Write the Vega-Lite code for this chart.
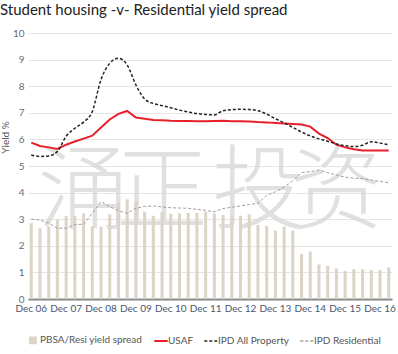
{
  "$schema": "https://vega.github.io/schema/vega-lite/v6.json",
  "width": 364,
  "height": 266,
  "padding": {"left": 0, "top": 3, "right": 5, "bottom": 0},
  "background": "white",
  "title": {"text": "Student housing -v- Residential yield spread", "anchor": "start", "frame": "bounds", "font": "Lato", "fontSize": 15, "fontWeight": "normal", "color": "#222222", "offset": 10},
  "config": {"view": {"stroke": null}, "font": "Lato"},
  "datasets": {
    "main": [
      {"q": "Dec 06", "spread": 2.85, "usaf": 5.88, "all": 5.41, "res": 3.00},
      {"q": "Mar 07", "spread": 2.66, "usaf": 5.75, "all": 5.36, "res": 2.97},
      {"q": "Jun 07", "spread": 2.72, "usaf": 5.70, "all": 5.38, "res": 2.85},
      {"q": "Sep 07", "spread": 2.97, "usaf": 5.64, "all": 5.55, "res": 2.66},
      {"q": "Dec 07", "spread": 3.12, "usaf": 5.80, "all": 6.12, "res": 2.66},
      {"q": "Mar 08", "spread": 3.12, "usaf": 5.92, "all": 6.42, "res": 2.80},
      {"q": "Jun 08", "spread": 3.22, "usaf": 6.03, "all": 6.65, "res": 2.81},
      {"q": "Sep 08", "spread": 2.74, "usaf": 6.14, "all": 7.05, "res": 3.22},
      {"q": "Dec 08", "spread": 2.72, "usaf": 6.45, "all": 8.25, "res": 3.66},
      {"q": "Mar 09", "spread": 3.18, "usaf": 6.75, "all": 8.86, "res": 3.47},
      {"q": "Jun 09", "spread": 3.62, "usaf": 6.96, "all": 9.05, "res": 3.32},
      {"q": "Sep 09", "spread": 3.75, "usaf": 7.07, "all": 8.80, "res": 3.22},
      {"q": "Dec 09", "spread": 3.67, "usaf": 6.82, "all": 8.05, "res": 3.41},
      {"q": "Mar 10", "spread": 3.28, "usaf": 6.78, "all": 7.52, "res": 3.48},
      {"q": "Jun 10", "spread": 3.13, "usaf": 6.73, "all": 7.35, "res": 3.50},
      {"q": "Sep 10", "spread": 3.28, "usaf": 6.72, "all": 7.27, "res": 3.46},
      {"q": "Dec 10", "spread": 3.20, "usaf": 6.70, "all": 7.19, "res": 3.43},
      {"q": "Mar 11", "spread": 3.22, "usaf": 6.69, "all": 7.10, "res": 3.42},
      {"q": "Jun 11", "spread": 3.24, "usaf": 6.69, "all": 7.03, "res": 3.41},
      {"q": "Sep 11", "spread": 3.24, "usaf": 6.68, "all": 6.97, "res": 3.37},
      {"q": "Dec 11", "spread": 3.28, "usaf": 6.68, "all": 6.94, "res": 3.33},
      {"q": "Mar 12", "spread": 3.22, "usaf": 6.69, "all": 6.92, "res": 3.28},
      {"q": "Jun 12", "spread": 3.16, "usaf": 6.70, "all": 7.08, "res": 3.40},
      {"q": "Sep 12", "spread": 3.10, "usaf": 6.68, "all": 7.12, "res": 3.45},
      {"q": "Dec 12", "spread": 3.13, "usaf": 6.68, "all": 7.13, "res": 3.50},
      {"q": "Mar 13", "spread": 3.18, "usaf": 6.67, "all": 7.12, "res": 3.55},
      {"q": "Jun 13", "spread": 2.78, "usaf": 6.65, "all": 7.08, "res": 3.60},
      {"q": "Sep 13", "spread": 2.75, "usaf": 6.64, "all": 6.95, "res": 3.90},
      {"q": "Dec 13", "spread": 2.57, "usaf": 6.62, "all": 6.78, "res": 4.03},
      {"q": "Mar 14", "spread": 2.72, "usaf": 6.60, "all": 6.62, "res": 4.20},
      {"q": "Jun 14", "spread": 2.57, "usaf": 6.58, "all": 6.45, "res": 4.45},
      {"q": "Sep 14", "spread": 1.69, "usaf": 6.56, "all": 6.28, "res": 4.75},
      {"q": "Dec 14", "spread": 1.78, "usaf": 6.48, "all": 6.13, "res": 4.79},
      {"q": "Mar 15", "spread": 1.30, "usaf": 6.22, "all": 6.02, "res": 4.85},
      {"q": "Jun 15", "spread": 1.24, "usaf": 6.05, "all": 5.93, "res": 4.75},
      {"q": "Sep 15", "spread": 1.15, "usaf": 5.80, "all": 5.83, "res": 4.66},
      {"q": "Dec 15", "spread": 1.05, "usaf": 5.70, "all": 5.76, "res": 4.58},
      {"q": "Mar 16", "spread": 1.12, "usaf": 5.63, "all": 5.73, "res": 4.54},
      {"q": "Jun 16", "spread": 1.12, "usaf": 5.58, "all": 5.78, "res": 4.53},
      {"q": "Sep 16", "spread": 1.09, "usaf": 5.58, "all": 5.91, "res": 4.47},
      {"q": "Dec 16", "spread": 1.09, "usaf": 5.58, "all": 5.86, "res": 4.42},
      {"q": "Mar 17", "spread": 1.19, "usaf": 5.58, "all": 5.80, "res": 4.37}
    ],
    "wm": [
      {"q": "Jun 08", "ch": "涌", "value": 3.95},
      {"q": "Sep 10", "ch": "正", "value": 3.95},
      {"q": "Jun 13", "ch": "投", "value": 3.95},
      {"q": "Sep 15", "ch": "资", "value": 3.95}
    ]
  },
  "encoding": {
    "x": {
      "field": "q", "type": "ordinal",
      "scale": {
        "domain": ["Dec 06","Mar 07","Jun 07","Sep 07","Dec 07","Mar 08","Jun 08","Sep 08","Dec 08","Mar 09","Jun 09","Sep 09","Dec 09","Mar 10","Jun 10","Sep 10","Dec 10","Mar 11","Jun 11","Sep 11","Dec 11","Mar 12","Jun 12","Sep 12","Dec 12","Mar 13","Jun 13","Sep 13","Dec 13","Mar 14","Jun 14","Sep 14","Dec 14","Mar 15","Jun 15","Sep 15","Dec 15","Mar 16","Jun 16","Sep 16","Dec 16","Mar 17"],
        "paddingInner": 0.65, "paddingOuter": 0.2
      },
      "axis": {
        "title": null, "values": ["Dec 06","Dec 07","Dec 08","Dec 09","Dec 10","Dec 11","Dec 12","Dec 13","Dec 14","Dec 15","Dec 16"],
        "labelAngle": 0, "ticks": false, "domainColor": "#8a8a8a", "domainWidth": 2,
        "labelColor": "#4a5670", "labelFontSize": 10, "labelFont": "Lato", "labelPadding": 4, "grid": false
      }
    },
    "y": {
      "field": "value", "type": "quantitative",
      "scale": {"domain": [0, 10], "nice": false},
      "axis": {
        "title": "Yield %", "values": [0,1,2,3,4,5,6,7,8,9,10], "labelOverlap": false, "domain": false, "ticks": false,
        "grid": true, "gridColor": "#e6e6e6", "labelColor": "#6b6b6b", "labelFontSize": 10, "labelFont": "Lato",
        "labelPadding": 4, "titleFont": "Lato", "titleFontSize": 10, "titleFontWeight": "normal", "titleColor": "#555555",
        "titleX": -18, "titleY": 104
      }
    }
  },
  "layer": [
    {
      "data": {"name": "wm"},
      "mark": {"type": "text", "font": "Noto Sans CJK SC", "fontSize": 92, "fontWeight": 300, "color": "#d6d6d6", "opacity": 0.75, "baseline": "middle", "align": "center"},
      "encoding": {
        "text": {"field": "ch"}
      }
    },
    {
      "data": {"name": "main"},
      "transform": [{"fold": ["spread", "usaf", "all", "res"], "as": ["series", "value"]}, {"filter": "datum.series == 'spread'"}],
      "mark": {"type": "bar"},
      "encoding": {
        "color": {
          "field": "series", "type": "nominal",
          "scale": {"domain": ["spread", "usaf", "all", "res"], "range": ["#dcd5c7", "#e8202a", "#222222", "#9e9e9e"]},
          "legend": {
            "orient": "none", "legendX": 0, "legendY": 302, "direction": "horizontal", "title": null,
            "labelExpr": "datum.value == 'spread' ? 'PBSA/Resi yield spread' : datum.value == 'usaf' ? 'USAF' : datum.value == 'all' ? 'IPD All Property' : 'IPD Residential'",
            "labelFont": "Lato", "labelFontSize": 10, "labelColor": "#555555",
            "symbolType": "stroke", "symbolSize": 180, "columnPadding": 7, "labelOffset": 2,
            "encode": {
              "symbols": {
                "update": {
                  "shape": {"signal": "datum.value == 'spread' ? 'square' : 'stroke'"},
                  "size": {"signal": "datum.value == 'spread' ? 40 : 180"},
                  "fill": {"signal": "datum.value == 'spread' ? '#dcd5c7' : 'transparent'"},
                  "stroke": {"signal": "datum.value == 'spread' ? 'transparent' : datum.value == 'usaf' ? '#e8202a' : datum.value == 'all' ? '#222222' : '#9e9e9e'"},
                  "strokeDash": {"signal": "(datum.value == 'all' || datum.value == 'res') ? [3, 2] : [1, 0]"},
                  "strokeWidth": {"signal": "datum.value == 'usaf' ? 2 : 1.5"},
                  "opacity": {"value": 1}
                }
              }
            }
          }
        }
      }
    },
    {
      "data": {"name": "main"},
      "transform": [{"fold": ["spread", "usaf", "all", "res"], "as": ["series", "value"]}, {"filter": "datum.series == 'usaf'"}],
      "mark": {"type": "line", "strokeWidth": 2},
      "encoding": {
        "color": {"field": "series", "type": "nominal"}
      }
    },
    {
      "data": {"name": "main"},
      "transform": [{"fold": ["spread", "usaf", "all", "res"], "as": ["series", "value"]}, {"filter": "datum.series == 'all'"}],
      "mark": {"type": "line", "strokeWidth": 1.5, "strokeDash": [3, 2], "interpolate": "monotone"},
      "encoding": {
        "color": {"field": "series", "type": "nominal"}
      }
    },
    {
      "data": {"name": "main"},
      "transform": [{"fold": ["spread", "usaf", "all", "res"], "as": ["series", "value"]}, {"filter": "datum.series == 'res'"}],
      "mark": {"type": "line", "strokeWidth": 1, "strokeDash": [3, 2]},
      "encoding": {
        "color": {"field": "series", "type": "nominal"}
      }
    }
  ]
}
